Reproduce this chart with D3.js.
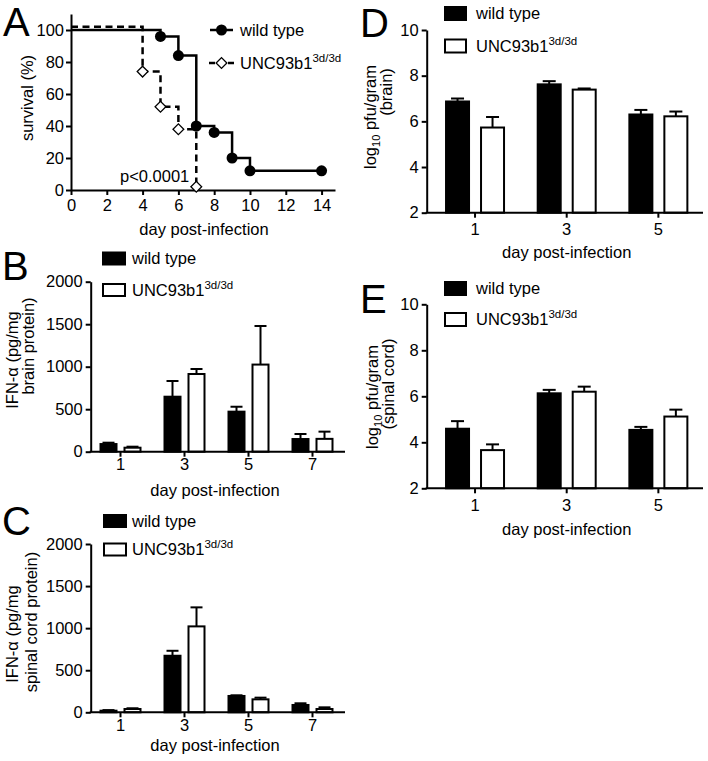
<!DOCTYPE html>
<html><head><meta charset="utf-8">
<script src="https://cdn.jsdelivr.net/npm/d3@7"></script>
<style>
body{margin:0;background:#fff}
svg{display:block}
text{font-family:"Liberation Sans",Arial,sans-serif;fill:#000}
</style>
</head><body>
<svg id="c" width="708" height="761"></svg>
<script>
// ---------- data ----------
const seriesNames = ["wild type", "UNC93b1"];
const seriesSup = "3d/3d";

// Panel A: Kaplan-Meier survival (%)
const survDaysWT = [0, 5, 6, 7, 8, 9, 10, 14];
const survWT     = [100, 96, 84, 40, 36, 20, 12, 12];
const survDaysKO = [0, 4, 5, 6, 7];
const survKO     = [102, 74, 52, 38, 2];
const survXTicks = [0, 2, 4, 6, 8, 10, 12, 14];
const survYTicks = [0, 20, 40, 60, 80, 100];

// Panels B, C: IFN-alpha (pg/mg protein)
const ifnDays = [1, 3, 5, 7];
const brainIfnWT = [90, 647, 471, 149];   const brainIfnWTsem = [16, 185, 58, 59];
const brainIfnKO = [47, 914, 1025, 151];  const brainIfnKOsem = [12, 59, 454, 85];
const cordIfnWT  = [19, 672, 194, 87];    const cordIfnWTsem  = [7, 59, 8, 20];
const cordIfnKO  = [39, 1021, 154, 39];   const cordIfnKOsem  = [9, 226, 20, 20];
const ifnYTicks = [0, 500, 1000, 1500, 2000];

// Panels D, E: log10 pfu/gram
const pfuDays = [1, 3, 5];
const brainPfuWT = [6.87, 7.62, 6.30];  const brainPfuWTsem = [0.13, 0.14, 0.20];
const brainPfuKO = [5.73, 7.39, 6.22];  const brainPfuKOsem = [0.46, 0.05, 0.21];
const cordPfuWT  = [4.59, 6.13, 4.54];  const cordPfuWTsem  = [0.33, 0.15, 0.13];
const cordPfuKO  = [3.66, 6.20, 5.12];  const cordPfuKOsem  = [0.25, 0.22, 0.30];
const pfuYTicks = [2, 4, 6, 8, 10];

const xTitle = "day post-infection";

// ---------- helpers ----------
const svg = d3.select("#c");
const FS = 16.5;
const fmt = d3.format("d");

function styleAxis(g) {
  g.selectAll("path,line").attr("stroke", "#000").attr("stroke-width", 2);
  g.selectAll("text").attr("font-size", FS).attr("font-family", '"Liberation Sans",Arial,sans-serif').attr("fill", "#000");
}
function panelLetter(t, x, y) {
  svg.append("text").attr("x", x).attr("y", y).attr("font-size", 40).text(t);
}
function rotText(x, y, parts) {
  const t = svg.append("text")
    .attr("transform", `translate(${x},${y}) rotate(-90)`)
    .attr("text-anchor", "middle").attr("dy", "0.35em").attr("font-size", FS);
  parts.forEach(p => {
    const s = t.append("tspan").text(p.t);
    if (p.sub) s.attr("font-size", 11).attr("dy", 4);
    if (p.after) s.attr("dy", -4);
  });
  return t;
}
function legendLabel(x, y, i) {
  const t = svg.append("text").attr("x", x).attr("y", y).attr("font-size", FS).text(seriesNames[i]);
  if (i === 1) t.append("tspan").attr("font-size", 11.5).attr("dy", -7).text(seriesSup);
}

// ---------- Panel A ----------
(function () {
  const x = d3.scaleLinear([0, 14.75], [71, 335]);
  const y = d3.scaleLinear([0, 110], [190, 14]);
  const gy = svg.append("g").attr("transform", "translate(71,0)")
    .call(d3.axisLeft(y).tickValues(survYTicks).tickFormat(fmt).tickSize(5).tickPadding(2).tickSizeOuter(0));
  styleAxis(gy);
  const gx = svg.append("g").attr("transform", "translate(0,190)")
    .call(d3.axisBottom(x).tickValues(survXTicks).tickFormat(fmt).tickSize(5).tickPadding(4).tickSizeOuter(0));
  styleAxis(gx);

  const line = d3.line().x(d => x(d[0])).y(d => y(d[1])).curve(d3.curveStepAfter);
  const wt = survDaysWT.map((d, i) => [d, survWT[i]]);
  const ko = survDaysKO.map((d, i) => [d, survKO[i]]);
  svg.append("path").attr("d", line(wt)).attr("fill", "none").attr("stroke", "#000").attr("stroke-width", 2.5);
  svg.append("path").attr("d", line(ko)).attr("fill", "none").attr("stroke", "#000").attr("stroke-width", 2.5)
    .attr("stroke-dasharray", "7,4.5");
  svg.selectAll(".wtpt").data(wt.slice(1)).join("circle")
    .attr("cx", d => x(d[0])).attr("cy", d => y(d[1])).attr("r", 5.5).attr("fill", "#000");
  const dia = d3.symbol(d3.symbolSquare, 58)();
  svg.selectAll(".kopt").data(ko.slice(1)).join("path")
    .attr("d", dia).attr("transform", d => `translate(${x(d[0])},${y(d[1])}) rotate(45)`)
    .attr("fill", "#fff").attr("stroke", "#000").attr("stroke-width", 1.3);

  // legend
  svg.append("line").attr("x1", 210).attr("x2", 233).attr("y1", 30).attr("y2", 30).attr("stroke", "#000").attr("stroke-width", 2.5);
  svg.append("circle").attr("cx", 221.5).attr("cy", 30).attr("r", 5.5).attr("fill", "#000");
  svg.append("line").attr("x1", 209).attr("x2", 234).attr("y1", 63).attr("y2", 63).attr("stroke", "#000").attr("stroke-width", 2.5).attr("stroke-dasharray", "6,13");
  svg.append("path").attr("d", dia).attr("transform", "translate(221.5,63) rotate(45)").attr("fill", "#fff").attr("stroke", "#000").attr("stroke-width", 1.3);
  legendLabel(240, 36, 0);
  legendLabel(240, 69, 1);

  svg.append("text").attr("x", 120).attr("y", 182).attr("font-size", FS).text("p<0.0001");
  svg.append("text").attr("x", 204).attr("y", 235).attr("text-anchor", "middle").attr("font-size", FS).text(xTitle);
  rotText(27, 98, [{t: "survival (%)"}]);
  panelLetter("A", 3, 36);
})();

// ---------- bar panels ----------
function barPanel(o) {
  const y = d3.scaleLinear(o.yDomain, o.yRange);
  const xb = d3.scaleBand(o.days, o.xRange).padding(0);
  const c = d => xb(d) + xb.bandwidth() / 2;
  const base = o.yRange[0];
  const off = o.gap / 2 + o.barW / 2;

  const sets = [
    {vals: o.wt, sem: o.wtSem, dx: -off, fill: "#000"},
    {vals: o.ko, sem: o.koSem, dx: off, fill: "#fff"}
  ];
  sets.forEach(s => {
    // error bars (upper only)
    svg.append("g").selectAll("g").data(o.days).join("g").each(function (d, i) {
      const g = d3.select(this);
      const cx = c(d) + s.dx;
      const top = y(s.vals[i] + s.sem[i]);
      g.append("line").attr("x1", cx).attr("x2", cx).attr("y1", y(s.vals[i])).attr("y2", top).attr("stroke", "#000").attr("stroke-width", 2);
      g.append("line").attr("x1", cx - o.cap / 2).attr("x2", cx + o.cap / 2).attr("y1", top).attr("y2", top).attr("stroke", "#000").attr("stroke-width", 2);
    });
    svg.append("g").selectAll("rect").data(o.days).join("rect")
      .attr("x", d => c(d) + s.dx - o.barW / 2 + 1)
      .attr("width", o.barW - 2)
      .attr("y", (d, i) => y(s.vals[i]))
      .attr("height", (d, i) => base - y(s.vals[i]))
      .attr("fill", s.fill).attr("stroke", "#000").attr("stroke-width", 2);
  });

  const gy = svg.append("g").attr("transform", `translate(${o.axisX},0)`)
    .call(d3.axisLeft(y).tickValues(o.yTicks).tickFormat(fmt).tickSize(5).tickPadding(3).tickSizeOuter(0));
  styleAxis(gy);
  const gx = svg.append("g").attr("transform", `translate(0,${base})`)
    .call(d3.axisBottom(xb).tickSize(5).tickPadding(o.xTickPad).tickSizeOuter(0));
  gx.select(".domain").remove();
  styleAxis(gx);
  svg.append("line").attr("x1", o.axisX - 1).attr("x2", o.xEnd).attr("y1", base).attr("y2", base).attr("stroke", "#000").attr("stroke-width", 2);

  // legend
  svg.append("rect").attr("x", o.legX + 1).attr("y", o.legY1 - o.legH / 2).attr("width", o.legW - 2).attr("height", o.legH)
    .attr("fill", "#000").attr("stroke", "#000").attr("stroke-width", 2);
  svg.append("rect").attr("x", o.legX + 1).attr("y", o.legY2 - o.legH / 2).attr("width", o.legW - 2).attr("height", o.legH)
    .attr("fill", "#fff").attr("stroke", "#000").attr("stroke-width", 2);
  legendLabel(o.legTextX, o.legY1 + 5.5, 0);
  legendLabel(o.legTextX, o.legY2 + 5.5, 1);

  svg.append("text").attr("x", o.xTitleX).attr("y", o.xTitleY).attr("text-anchor", "middle").attr("font-size", FS).text(xTitle);
  o.yTitles.forEach(t => rotText(t.x, t.y, t.parts));
  panelLetter(o.letter, o.letterX, o.letterY);
}

barPanel({
  letter: "B", letterX: 2, letterY: 280,
  days: ifnDays, wt: brainIfnWT, wtSem: brainIfnWTsem, ko: brainIfnKO, koSem: brainIfnKOsem,
  yDomain: [0, 2000], yRange: [451.7, 281.7], yTicks: ifnYTicks,
  axisX: 90.7, xRange: [88.5, 344.5], xEnd: 345, barW: 18, gap: 6, cap: 12, xTickPad: 2,
  legX: 102, legW: 24, legH: 12, legY1: 258.5, legY2: 290, legTextX: 132,
  xTitleX: 215, xTitleY: 496,
  yTitles: [{x: 12, y: 360, parts: [{t: "IFN-α (pg/mg"}]}, {x: 28, y: 346, parts: [{t: "brain protein)"}]}]
});

barPanel({
  letter: "C", letterX: 2, letterY: 535,
  days: ifnDays, wt: cordIfnWT, wtSem: cordIfnWTsem, ko: cordIfnKO, koSem: cordIfnKOsem,
  yDomain: [0, 2000], yRange: [712.3, 544], yTicks: ifnYTicks,
  axisX: 90.7, xRange: [88.5, 344.5], xEnd: 345, barW: 18, gap: 6, cap: 12, xTickPad: 2,
  legX: 103, legW: 24, legH: 12, legY1: 521, legY2: 549.5, legTextX: 132,
  xTitleX: 215, xTitleY: 751,
  yTitles: [{x: 12.5, y: 634, parts: [{t: "IFN-α (pg/mg"}]}, {x: 31, y: 622, parts: [{t: "spinal cord protein)"}]}]
});

barPanel({
  letter: "D", letterX: 360, letterY: 36.5,
  days: pfuDays, wt: brainPfuWT, wtSem: brainPfuWTsem, ko: brainPfuKO, koSem: brainPfuKOsem,
  yDomain: [2, 10], yRange: [212.7, 30], yTicks: pfuYTicks,
  axisX: 426.7, xRange: [429.2, 704.2], xEnd: 703, barW: 25, gap: 10, cap: 13, xTickPad: 6,
  legX: 444, legW: 23, legH: 13, legY1: 13.5, legY2: 46, legTextX: 476,
  xTitleX: 566.7, xTitleY: 258,
  yTitles: [{x: 370, y: 117, parts: [{t: "log"}, {t: "10", sub: true}, {t: " pfu/gram", after: true}]},
            {x: 386, y: 92, parts: [{t: "(brain)"}]}]
});

barPanel({
  letter: "E", letterX: 360, letterY: 313,
  days: pfuDays, wt: cordPfuWT, wtSem: cordPfuWTsem, ko: cordPfuKO, koSem: cordPfuKOsem,
  yDomain: [2, 10], yRange: [488.3, 304.3], yTicks: pfuYTicks,
  axisX: 426.7, xRange: [429.2, 704.2], xEnd: 703, barW: 25, gap: 10, cap: 13, xTickPad: 6,
  legX: 444, legW: 23, legH: 13, legY1: 288.5, legY2: 319.5, legTextX: 476,
  xTitleX: 566.7, xTitleY: 535,
  yTitles: [{x: 372, y: 397, parts: [{t: "log"}, {t: "10", sub: true}, {t: " pfu/gram", after: true}]},
            {x: 388, y: 384, parts: [{t: "(spinal cord)"}]}]
});
</script>
</body></html>
